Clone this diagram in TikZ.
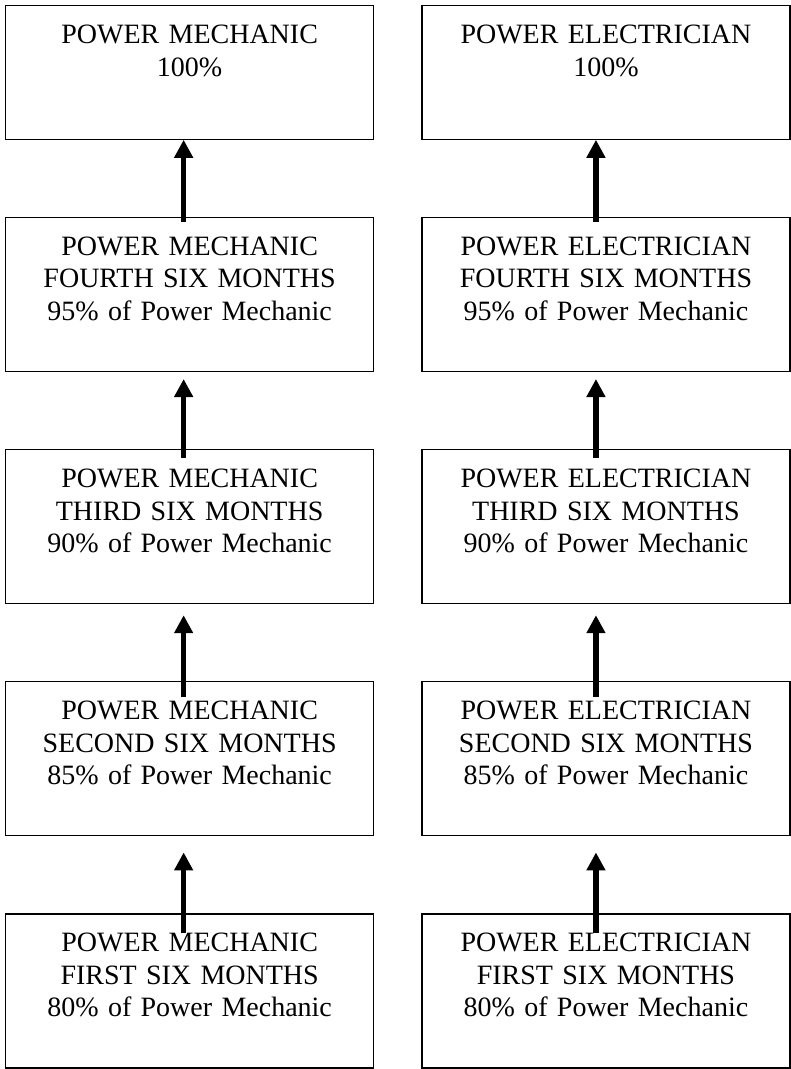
\documentclass[tikz,border=0pt]{standalone}
\usepackage{fontspec}
\setmainfont{Liberation Serif}
\usetikzlibrary{arrows.meta, positioning}

\begin{document}
\begin{tikzpicture}[
  box/.style = {rectangle, draw, line width=1.3pt, text width=366pt, inner xsep=1pt, inner ysep=19pt, text height=19pt, text depth=97pt, align=center, font=\fontsize{28pt}{32.5pt}\selectfont},
  topbox/.style = {box, text depth=76.5pt},
  up/.style = {-{Triangle[length=18pt, width=18pt]}, line width=5.3pt},
  node distance=76.9pt and 47pt
  ]
  \useasboundingbox (0,0) rectangle (791pt,-1069pt);

  % Mechanic
  \node[topbox, anchor=north west] (mech full) at (5pt,-5pt) {POWER MECHANIC\\100\%};
  \node[box, below=of mech full] (mech 4) {POWER MECHANIC\\FOURTH SIX MONTHS\\95\% of Power Mechanic};
  \node[box, below=of mech 4] (mech 3) {POWER MECHANIC\\THIRD SIX MONTHS\\90\% of Power Mechanic};
  \node[box, below=of mech 3] (mech 2) {POWER MECHANIC\\SECOND SIX MONTHS\\85\% of Power Mechanic};
  \node[box, below=of mech 2] (mech 1) {POWER MECHANIC\\FIRST SIX MONTHS\\80\% of Power Mechanic};

  % Electrician
  \node[topbox, right=of mech full] (elec full) {POWER ELECTRICIAN\\100\%};
  \node[box, below=of elec full] (elec 4) {POWER ELECTRICIAN\\FOURTH SIX MONTHS\\95\% of Power Mechanic};
  \node[box, below=of elec 4] (elec 3) {POWER ELECTRICIAN\\THIRD SIX MONTHS\\90\% of Power Mechanic};
  \node[box, below=of elec 3] (elec 2) {POWER ELECTRICIAN\\SECOND SIX MONTHS\\85\% of Power Mechanic};
  \node[box, below=of elec 2] (elec 1) {POWER ELECTRICIAN\\FIRST SIX MONTHS\\80\% of Power Mechanic};

  % Arrows
  \draw[up, shorten <=-5pt] ([xshift=-6pt]mech 4.north) -- ([xshift=-6pt]mech full.south);
  \draw[up, shorten <=-9pt, shorten >=7pt] ([xshift=-6pt]mech 3.north) -- ([xshift=-6pt]mech 4.south);
  \draw[up, shorten <=-16pt, shorten >=11pt] ([xshift=-6pt]mech 2.north) -- ([xshift=-6pt]mech 3.south);
  \draw[up, shorten <=-20pt, shorten >=16pt] ([xshift=-6pt]mech 1.north) -- ([xshift=-6pt]mech 2.south);
  \draw[up, shorten <=-5pt] ([xshift=-10pt]elec 4.north) -- ([xshift=-10pt]elec full.south);
  \draw[up, shorten <=-9pt, shorten >=7pt] ([xshift=-10pt]elec 3.north) -- ([xshift=-10pt]elec 4.south);
  \draw[up, shorten <=-16pt, shorten >=11pt] ([xshift=-10pt]elec 2.north) -- ([xshift=-10pt]elec 3.south);
  \draw[up, shorten <=-20pt, shorten >=16pt] ([xshift=-10pt]elec 1.north) -- ([xshift=-10pt]elec 2.south);

\end{tikzpicture}
\end{document}
